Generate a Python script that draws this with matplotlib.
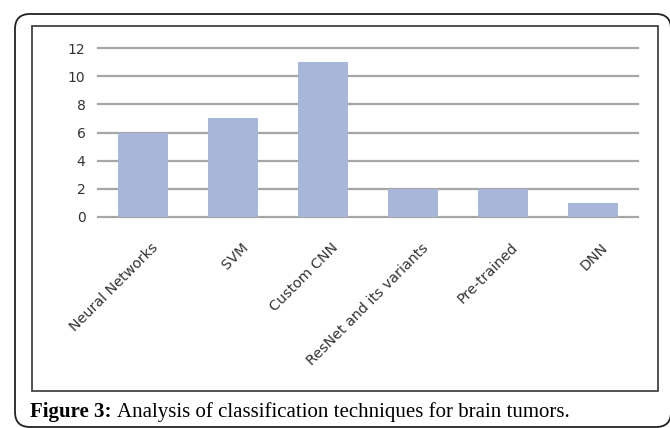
import matplotlib.pyplot as plt
from matplotlib.patches import FancyBboxPatch, Rectangle
from matplotlib.transforms import IdentityTransform, ScaledTranslation

# Data
techniques = ["Neural Networks", "SVM", "Custom CNN", "ResNet and its variants", "Pre-trained", "DNN"]
counts = [6, 7, 11, 2, 2, 1]
yticks = [0, 2, 4, 6, 8, 10, 12]

W, H = 670, 428
fig = plt.figure(figsize=(W / 100, H / 100), dpi=100)

# pixel helpers (top-left origin like the picture)
def px_box(x0, y0, x1, y1):
    return x0, H - y1, x1 - x0, y1 - y0

# Outer rounded frame, right side sits just off the picture
bx, by, bw, bh = px_box(15, 14, 671, 427)
outer = FancyBboxPatch((bx, by), bw, bh, boxstyle="round,pad=0,rounding_size=15",
                       transform=IdentityTransform(), fill=False, lw=1.3, ec="#222222")
fig.patches.append(outer)

# Inner chart frame
bx, by, bw, bh = px_box(32, 26, 658, 391)
inner = Rectangle((bx, by), bw, bh, transform=IdentityTransform(),
                  fill=False, lw=1.3, ec="#444444")
fig.patches.append(inner)

# plot area: x 98..638, y 48..217 pixels
ax = fig.add_axes([98 / W, 1 - 217 / H, 540 / W, (217 - 48) / H])
x = range(len(techniques))
ax.bar(x, counts, width=0.55, color="#a7b6d9", zorder=3)
ax.set_xlim(-0.5, len(techniques) - 0.5)
ax.set_ylim(0, 12)
ax.set_yticks(yticks)
ax.yaxis.grid(True, color="#a6a6a6", lw=1.6, zorder=0)
for gl in ax.get_ygridlines():
    gl.set_clip_on(False)
for s in ax.spines.values():
    s.set_visible(False)
ax.tick_params(axis="both", length=0, colors="#333333")
ax.tick_params(axis="y", pad=9, labelsize=10)
ax.set_xticks(list(x))
ax.set_xticklabels(techniques, rotation=45, ha="right", va="top",
                   rotation_mode="anchor", fontsize=10.3)
ax.tick_params(axis="x", pad=17)
# labels end a little right of the bar centre, as in the source
shift = ScaledTranslation(8 / 100, 0, fig.dpi_scale_trans)
for lab in ax.get_xticklabels():
    lab.set_transform(lab.get_transform() + shift)

cap = fig.text(30 / W, 1 - 412 / H, "Figure 3:", fontsize=15, fontweight="bold",
               family="Liberation Serif", va="center", ha="left")
ax.annotate("Analysis of classification techniques for brain tumors.",
            xy=(1, 0.5), xycoords=cap, xytext=(4, 0), textcoords="offset points",
            fontsize=15, family="Liberation Serif", va="center", ha="left",
            annotation_clip=False)

fig.savefig("out.png", dpi=100)
